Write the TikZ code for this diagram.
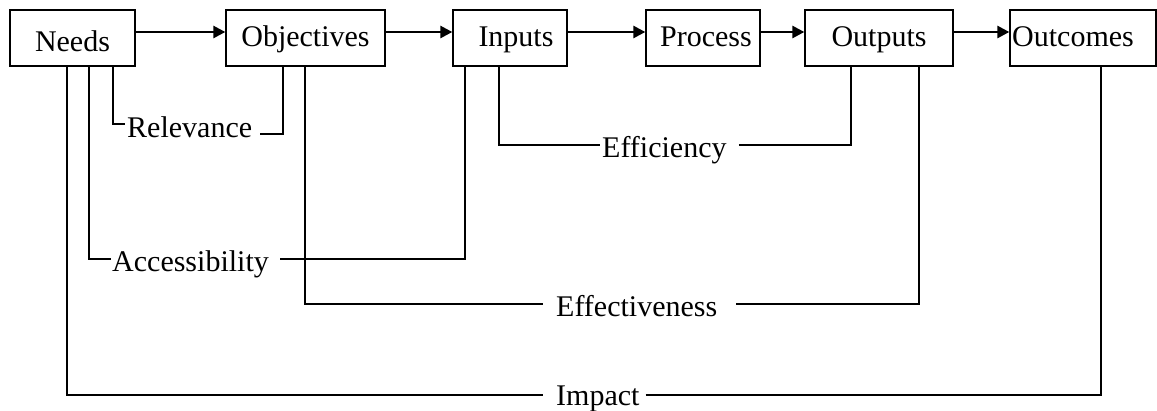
\documentclass[tikz,border=0pt]{standalone}
\usepackage{fontspec}
\setmainfont{Liberation Serif}
\usetikzlibrary{arrows.meta,calc}
\begin{document}
\begin{tikzpicture}[x=1pt,y=-1pt,
 box/.style={draw,line width=1.3pt,minimum height=56pt,inner sep=0pt,text height=20pt,text depth=4pt,font=\fontsize{30}{36}\selectfont},
 lbl/.style={inner sep=0pt,anchor=west,text height=20pt,text depth=0pt,font=\fontsize{30}{36}\selectfont},
 conn/.style={line width=1.3pt},
 arr/.style={line width=2.6pt,-{Triangle[length=12pt,width=12pt]}}]
\useasboundingbox (0,0) rectangle (1157,410);
% boxes
\node[box,minimum width=125pt,text height=26pt,text depth=0pt] (needs) at (72.5,38) {Needs};
\node[box,minimum width=159pt] (objectives) at (305.5,38) {Objectives};
\node[box,minimum width=114pt] (inputs) at (510,38) {\hspace*{12pt}Inputs};
\node[box,minimum width=114pt] (process) at (703,38) {\hspace*{6pt}Process};
\node[box,minimum width=148pt] (outputs) at (879,38) {Outputs};
\node[box,minimum width=146pt] (outcomes) at (1083,38) {Outcomes\hspace*{20pt}};
% arrows
\draw[arr] ([yshift=6pt]needs.east) -- ([yshift=6pt]objectives.west);
\draw[arr] ([yshift=6pt]objectives.east) -- ([yshift=6pt]inputs.west);
\draw[arr] ([yshift=6pt]inputs.east) -- ([yshift=6pt]process.west);
\draw[arr] ([yshift=6pt]process.east) -- ([yshift=6pt]outputs.west);
\draw[arr] ([yshift=6pt]outputs.east) -- ([yshift=6pt]outcomes.west);
% drop points
\coordinate (nA) at (67,66);
\coordinate (nB) at (89,66);
\coordinate (nC) at (113,66);
\coordinate (oA) at (283,66);
\coordinate (oB) at (305,66);
\coordinate (iA) at (465,66);
\coordinate (iB) at (499,66);
\coordinate (uA) at (851,66);
\coordinate (uB) at (919,66);
\coordinate (cA) at (1101,66);
% labels
\node[lbl] (relevance) at (127,127) {Relevance};
\node[lbl] (access) at (112,261) {Accessibility};
\node[lbl] (efficiency) at (602,147) {Efficiency};
\node[lbl] (effect) at (556,306) {Effectiveness};
\node[lbl] (impact) at (556,395) {Impact};
% connectors
\draw[conn] (nC) |- ([xshift=-2pt,yshift=3pt]relevance.west);
\draw[conn] ([xshift=8pt,yshift=-7pt]relevance.east) -| (oA);
\draw[conn] (nB) |- ([xshift=-1pt,yshift=2pt]access.west);
\draw[conn] ([xshift=11pt,yshift=2pt]access.east) -| (iA);
\draw[conn] (iB) |- ([xshift=-2pt,yshift=2pt]efficiency.west);
\draw[conn] ([xshift=12pt,yshift=2pt]efficiency.east) -| (uA);
\draw[conn] (oB) |- ([xshift=-13pt,yshift=2pt]effect.west);
\draw[conn] ([xshift=19pt,yshift=2pt]effect.east) -| (uB);
\draw[conn] (nA) |- ([xshift=-13pt]impact.west);
\draw[conn] ([xshift=6pt]impact.east) -| (cA);
\end{tikzpicture}
\end{document}
